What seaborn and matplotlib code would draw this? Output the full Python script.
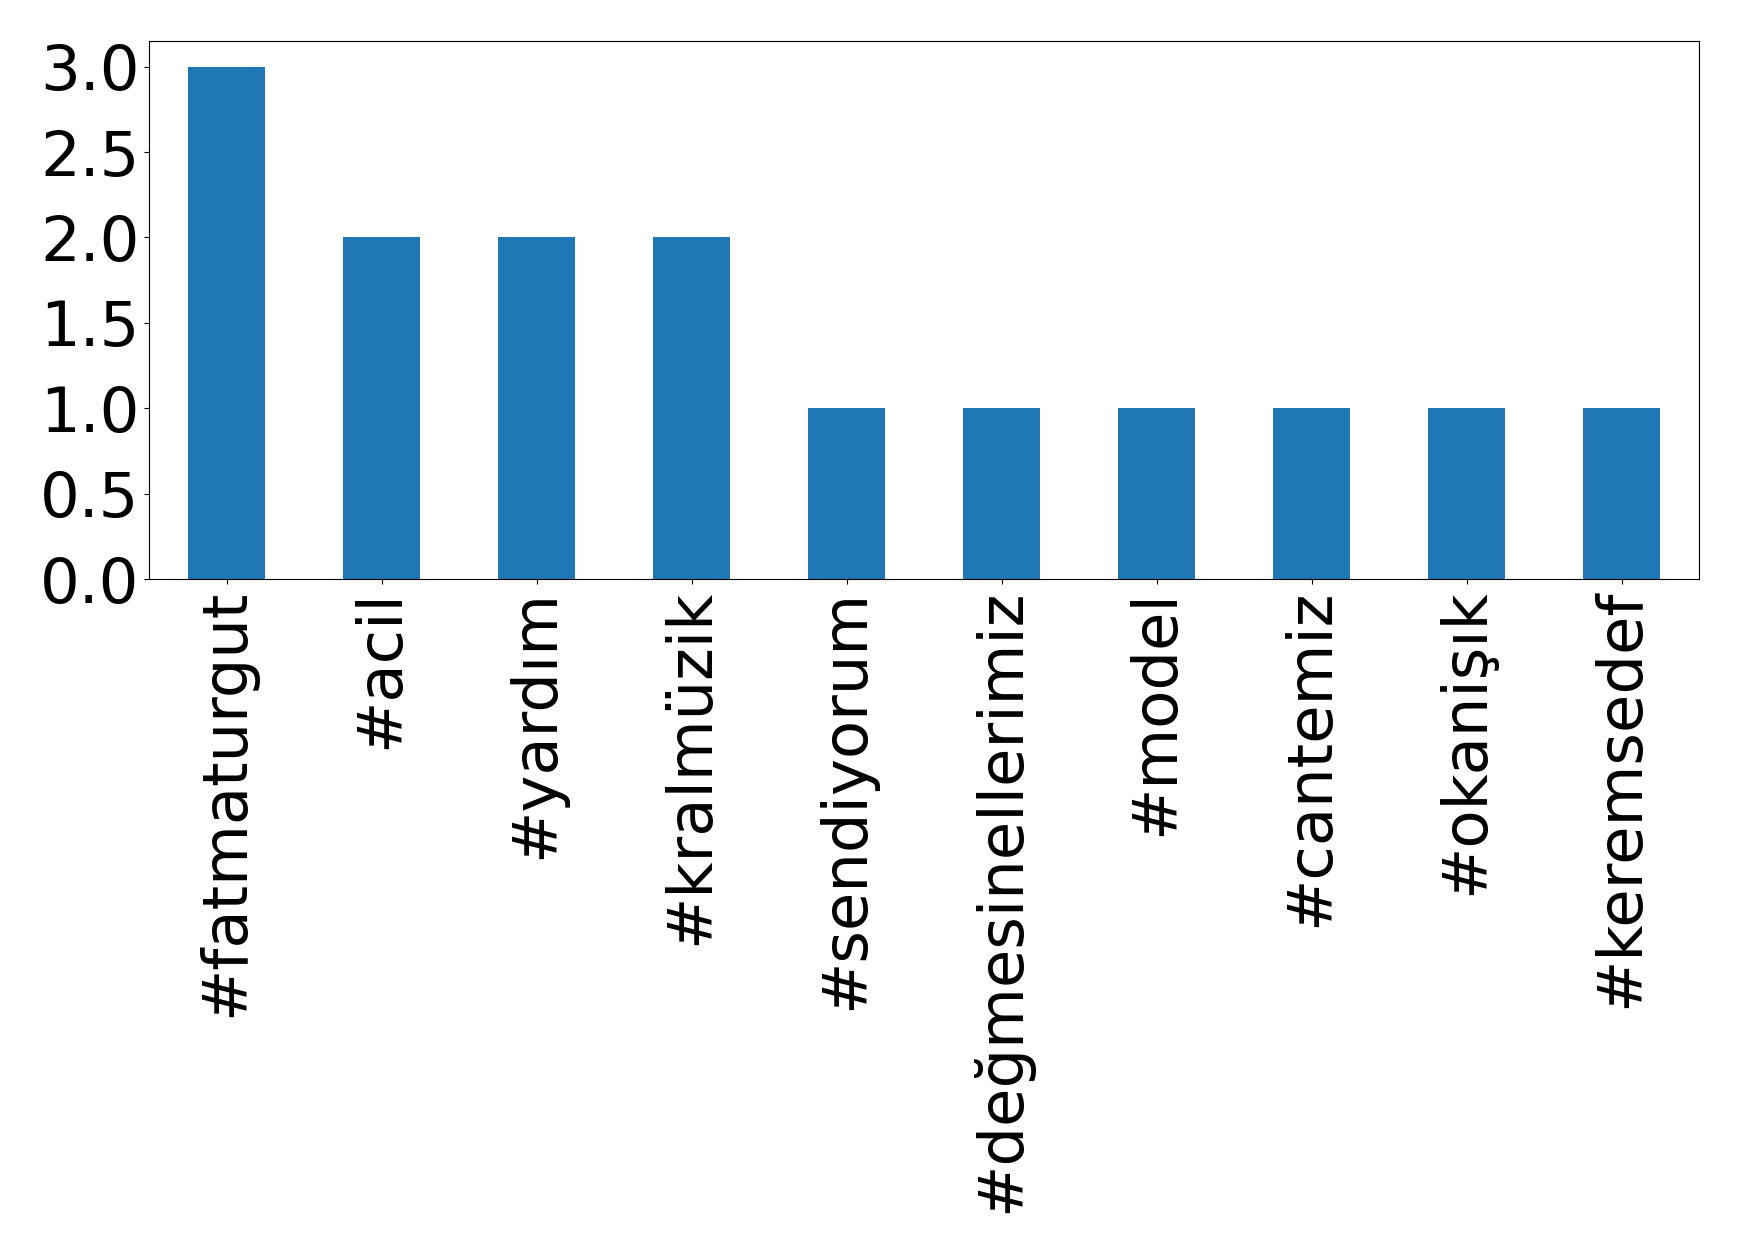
import matplotlib
matplotlib.use("Agg")
import matplotlib.pyplot as plt
import seaborn as sns
import pandas as pd

categories = ["#fatmaturgut", "#acil", "#yardım", "#kralmüzik", "#sendiyorum",
              "#değmesinellerimiz", "#model", "#cantemiz", "#okanişık", "#keremsedef"]
counts = [3, 2, 2, 2, 1, 1, 1, 1, 1, 1]

df = pd.DataFrame({"tag": categories, "count": counts})

plt.rcParams['font.family'] = ['DejaVu Sans']
fig = plt.figure(figsize=(17.39, 12.53), dpi=100)
ax = fig.add_axes([149/1739, 1 - 579/1253, (1699-149)/1739, (579-41)/1253])
sns.barplot(data=df, x="tag", y="count", color="#1f77b4", saturation=1,
            width=0.5, ax=ax, order=categories)
ax.set_xlim(-0.5, len(categories) - 0.5)
ax.set_ylim(0, 3.15)
ax.set_xlabel("")
ax.set_ylabel("")
ax.tick_params(axis="both", labelsize=45)
ax.set_xticks(range(len(categories)))
ax.set_xticklabels(categories, rotation=90)
ax.set_yticks([0, 0.5, 1.0, 1.5, 2.0, 2.5, 3.0])
ax.set_yticklabels(["0.0", "0.5", "1.0", "1.5", "2.0", "2.5", "3.0"])
for s in ax.spines.values():
    s.set_visible(True)
    s.set_color("black")
fig.savefig("out.png", dpi=100)
